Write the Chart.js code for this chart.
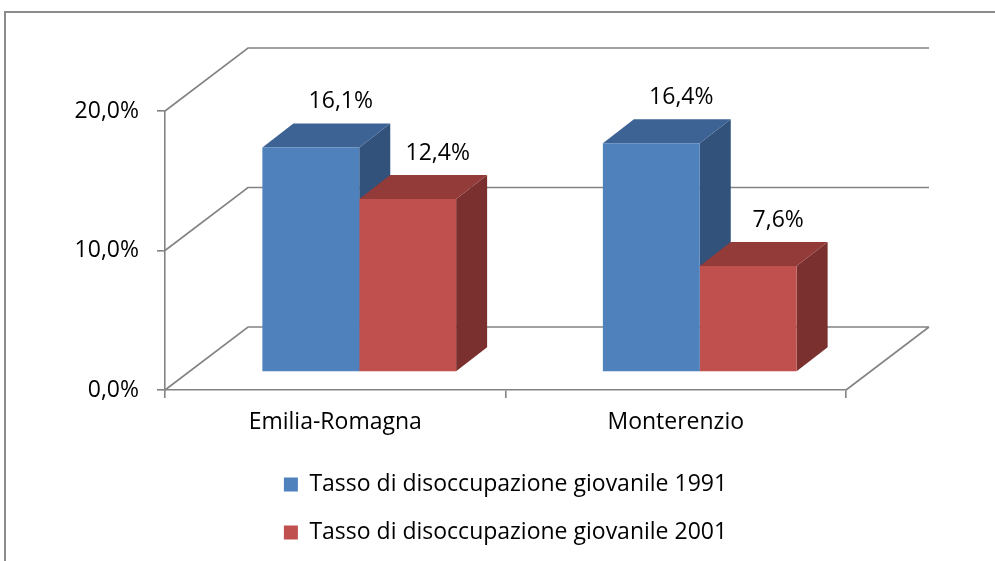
<!DOCTYPE html>
<html>
<head>
<meta charset="utf-8">
<script src="https://cdn.jsdelivr.net/npm/chart.js@4/dist/chart.umd.min.js"></script>
<style>
  html, body { margin: 0; padding: 0; background: #fff; }
  #wrap { width: 995px; height: 561px; position: relative; }
</style>
</head>
<body>
<div id="wrap"><canvas id="chart"></canvas></div>
<script>
const categories = ["Emilia-Romagna", "Monterenzio"];
const seriesNames = ["Tasso di disoccupazione giovanile 1991", "Tasso di disoccupazione giovanile 2001"];
const values1991 = [16.1, 16.4];
const values2001 = [12.4, 7.6];
const yTicks = [0, 10, 20];

const FONT = '"Open Sans", sans-serif';
const GRID = "#838383";
// fake 3d: depth of the walls, depth of a bar, where the bar row sits in the box
const WALL = { dx: 83, dy: -63 };
const BAR = { dx: 31, dy: -24 };
const ROW = { dx: 24, dy: -18 };

const faces = [
  { front: "#4f81bd", top: "#3d6394", side: "#32527c" },
  { front: "#c0504d", top: "#923b38", side: "#7a302e" }
];

const fmt = (v) => v.toFixed(1).replace(".", ",") + "%";

const pseudo3d = {
  id: "pseudo3d",
  beforeDraw(chart) {
    const ctx = chart.ctx;
    ctx.save();
    ctx.strokeStyle = "#8c8c8c";
    ctx.lineWidth = 2;
    ctx.beginPath();
    ctx.moveTo(5, chart.height + 5);
    ctx.lineTo(5, 12);
    ctx.lineTo(chart.width + 5, 12);
    ctx.stroke();
    ctx.restore();
  },
  beforeDatasetsDraw(chart) {
    const { ctx, chartArea: a, scales: { y } } = chart;
    ctx.save();
    ctx.strokeStyle = GRID;
    ctx.lineWidth = 1.6;
    ctx.beginPath();
    yTicks.forEach((t) => {
      const py = y.getPixelForValue(t);
      ctx.moveTo(a.left, py);
      ctx.lineTo(a.left + WALL.dx, py + WALL.dy);
      ctx.lineTo(a.right + WALL.dx, py + WALL.dy);
    });
    const py0 = y.getPixelForValue(0);
    ctx.moveTo(a.right, py0);
    ctx.lineTo(a.right + WALL.dx, py0 + WALL.dy);
    ctx.stroke();

    // top + side faces, back to front
    for (let i = 0; i < categories.length; i++) {
      chart.data.datasets.forEach((ds, di) => {
        const bar = chart.getDatasetMeta(di).data[i];
        const l = bar.x - bar.width / 2 + ROW.dx;
        const r = bar.x + bar.width / 2 + ROW.dx;
        const t = bar.y + ROW.dy;
        const b = bar.base + ROW.dy;
        ctx.fillStyle = faces[di].side;
        ctx.beginPath();
        ctx.moveTo(r, t);
        ctx.lineTo(r + BAR.dx, t + BAR.dy);
        ctx.lineTo(r + BAR.dx, b + BAR.dy);
        ctx.lineTo(r, b);
        ctx.closePath();
        ctx.fill();
        ctx.fillStyle = faces[di].top;
        ctx.beginPath();
        ctx.moveTo(l, t);
        ctx.lineTo(l + BAR.dx, t + BAR.dy);
        ctx.lineTo(r + BAR.dx, t + BAR.dy);
        ctx.lineTo(r, t);
        ctx.closePath();
        ctx.fill();
      });
    }
    ctx.restore();
    // front faces are drawn by chart.js, pushed into the box
    ctx.save();
    ctx.translate(ROW.dx, ROW.dy);
  },
  afterDatasetsDraw(chart) {
    const ctx = chart.ctx;
    ctx.restore();
    ctx.save();
    ctx.font = "23px " + FONT;
    ctx.fillStyle = "#000";
    ctx.textAlign = "center";
    ctx.textBaseline = "middle";
    chart.data.datasets.forEach((ds, di) => {
      chart.getDatasetMeta(di).data.forEach((bar, i) => {
        ctx.fillText(fmt(ds.data[i]), bar.x + ROW.dx + 30, bar.y + ROW.dy - 46);
      });
    });
    ctx.restore();
  }
};

new Chart(document.getElementById("chart"), {
  type: "bar",
  data: {
    labels: categories,
    datasets: [
      { label: seriesNames[0], data: values1991, backgroundColor: faces[0].front, borderWidth: 0, clip: false },
      { label: seriesNames[1], data: values2001, backgroundColor: faces[1].front, borderWidth: 0, clip: false }
    ]
  },
  options: {
    responsive: true,
    maintainAspectRatio: false,
    animation: false,
    events: [],
    barPercentage: 1,
    categoryPercentage: 0.569,
    layout: { padding: { top: 111, right: 149, bottom: 7, left: 0 } },
    scales: {
      x: {
        grid: { offset: true, drawOnChartArea: false, tickLength: 8, color: GRID, lineWidth: 1.6 },
        border: { color: GRID, width: 1.6 },
        ticks: { font: { family: FONT, size: 23 }, color: "#000", padding: 11 },
        afterFit: (s) => { s.height = 58; }
      },
      y: {
        min: 0,
        max: 20,
        grid: { drawOnChartArea: false, tickLength: 8, color: GRID, lineWidth: 1.6 },
        border: { color: GRID, width: 1.6 },
        ticks: { stepSize: 10, callback: (v) => fmt(v), font: { family: FONT, size: 23 }, color: "#000", padding: 18 },
        afterFit: (s) => { s.width = 165; }
      }
    },
    plugins: {
      legend: {
        position: "bottom",
        fullSize: false,
        labels: {
          boxWidth: 14,
          boxHeight: 14,
          padding: 25,
          color: "#000",
          font: { family: FONT, size: 23 }
        }
      },
      tooltip: { enabled: false }
    }
  },
  plugins: [pseudo3d]
});
</script>
</body>
</html>
